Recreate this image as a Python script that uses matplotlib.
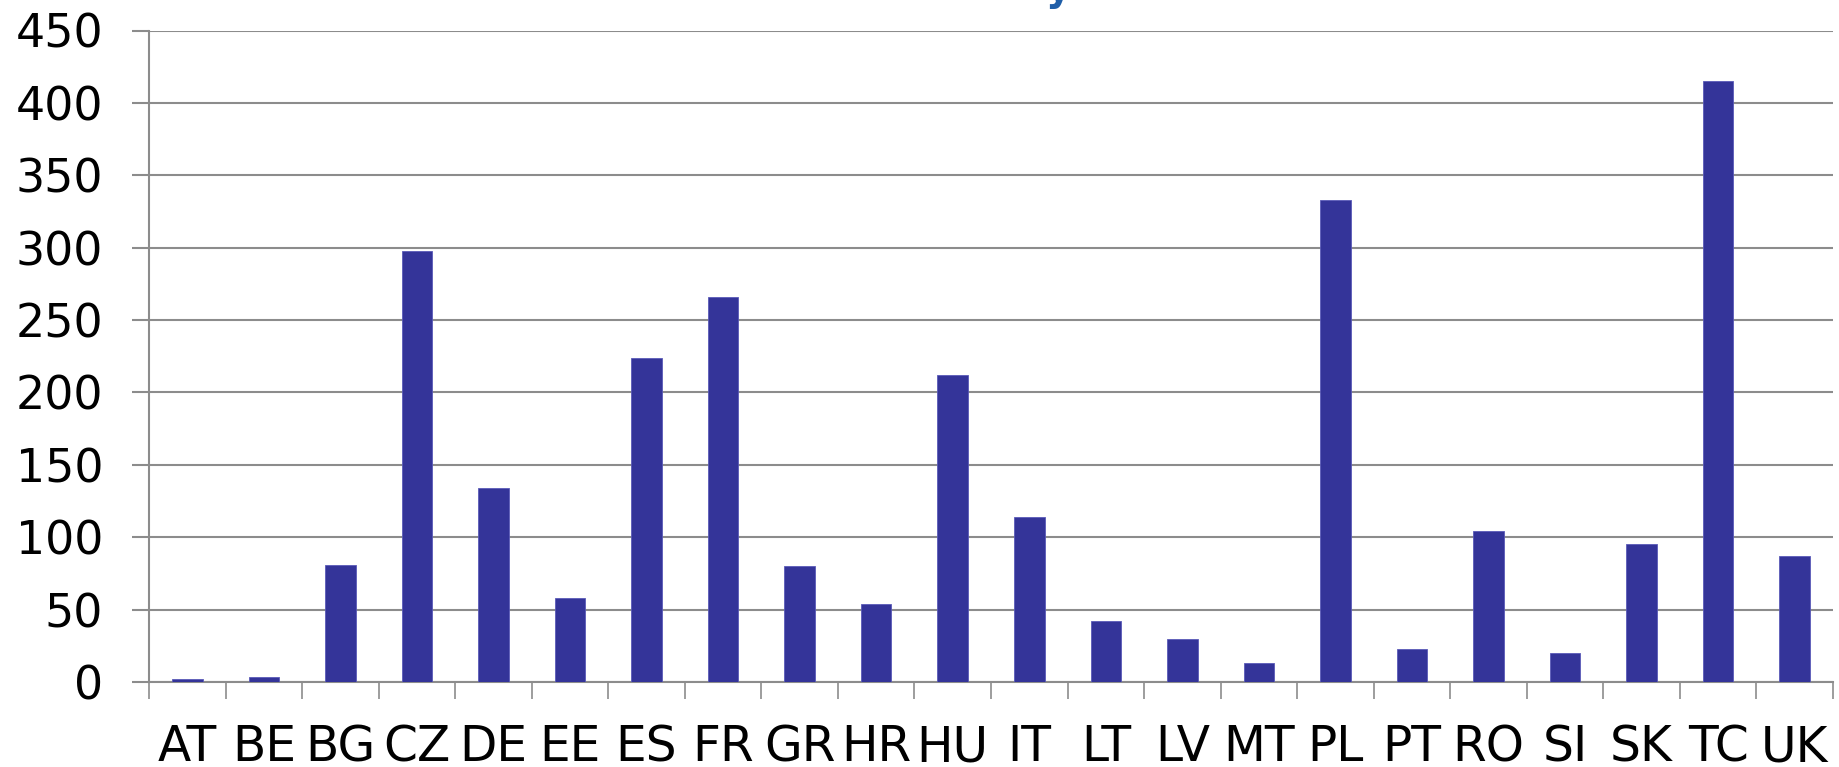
import matplotlib
matplotlib.use("Agg")
import matplotlib.pyplot as plt
import numpy as np

categories = ["AT", "BE", "BG", "CZ", "DE", "EE", "ES", "FR", "GR", "HR", "HU",
              "IT", "LT", "LV", "MT", "PL", "PT", "RO", "SI", "SK", "TC", "UK"]
values = [2, 3.5, 81, 298, 134, 58, 224, 266, 80, 54, 212,
          114, 42, 30, 13, 333, 23, 104, 20, 95, 415, 87]
yticks = [0, 50, 100, 150, 200, 250, 300, 350, 400, 450]

plt.rcParams['font.family'] = ['DejaVu Sans']
W, H = 1840, 767
fig = plt.figure(figsize=(W / 100, H / 100), dpi=100)
ax = fig.add_axes([149 / W, 1 - 682 / H, (1833 - 149) / W, (682 - 30.5) / H])

x = np.arange(len(categories))
ax.bar(x, values, width=0.4, color='#343499', edgecolor='#5a5ab8', linewidth=0.6, zorder=3)

ax.set_xlim(-0.5, len(categories) - 0.5)
ax.set_ylim(0, 450)
ax.set_yticks(yticks)
ax.set_yticklabels([str(v) for v in yticks])
ax.yaxis.grid(True, color='#8c8c8c', linewidth=1.5, zorder=0)
ax.set_axisbelow(True)

ax.set_xticks(x)
ax.set_xticklabels(categories)
ax.set_xticks(np.arange(-0.5, len(categories), 1.0), minor=True)
ax.tick_params(axis='x', which='major', length=0, pad=57, labelsize=35)
ax.tick_params(axis='x', which='minor', length=12, width=1.2, color='#8c8c8c')
ax.tick_params(axis='y', which='major', length=12, width=1.5, color='#8c8c8c', pad=21, labelsize=33)
for lab in ax.get_xticklabels():
    lab.set_verticalalignment('baseline')

for s in ['top', 'right']:
    ax.spines[s].set_visible(False)
for s in ['left', 'bottom']:
    ax.spines[s].set_color('#8c8c8c')
    ax.spines[s].set_linewidth(1.5)

# partially visible (cropped) title fragment
fig.text(1058 / W, 1 - 1 / H, "y", color='#1f5ea8', fontsize=28, fontweight='bold',
         ha='center', va='baseline')

fig.savefig("out.png", dpi=100)
